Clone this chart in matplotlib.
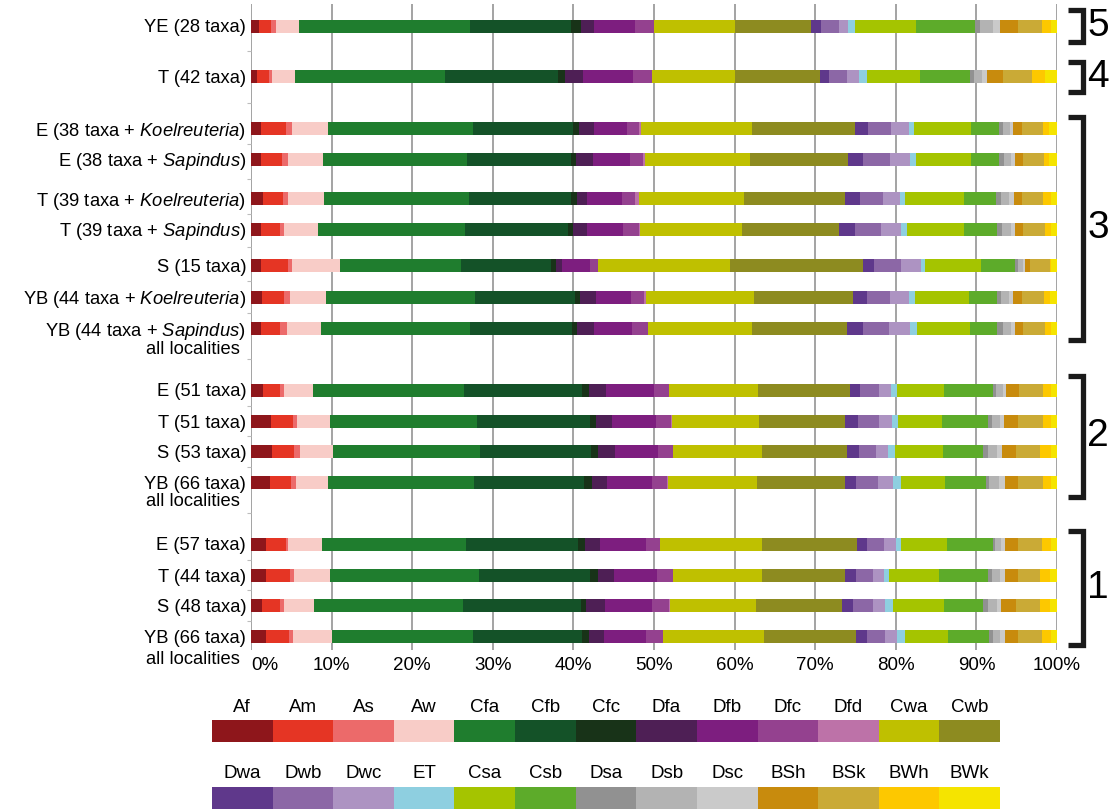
import numpy as np
import matplotlib
matplotlib.use("Agg")
import matplotlib.pyplot as plt
from matplotlib.transforms import blended_transform_factory

plt.rcParams['font.family'] = ['Liberation Sans', 'DejaVu Sans']
plt.rcParams['mathtext.fontset'] = 'custom'
plt.rcParams['mathtext.rm'] = 'Liberation Sans'
plt.rcParams['mathtext.it'] = 'Liberation Sans:italic'

# Koeppen-Geiger climate types and their colours
climate_types = ['Af', 'Am', 'As', 'Aw', 'Cfa', 'Cfb', 'Cfc', 'Dfa', 'Dfb', 'Dfc', 'Dfd',
                 'Cwa', 'Cwb', 'Dwa', 'Dwb', 'Dwc', 'ET', 'Csa', 'Csb', 'Dsa', 'Dsb',
                 'Dsc', 'BSh', 'BSk', 'BWh', 'BWk']
climate_colors = ['#8E161B', '#E53524', '#EC6A6A', '#F8CCC7', '#1F7D2E', '#145228',
                  '#183318', '#4E1F55', '#7D1E7F', '#94418F', '#BD72A8', '#BFC000',
                  '#8D8B20', '#5F388B', '#8C67A6', '#AD93C2', '#8ECFE0', '#A5C400',
                  '#5DAB2A', '#919191', '#B3B3B3', '#CACACA', '#C88B0D', '#CAAA36',
                  '#FDC800', '#F5E400']

row_labels = ['YE (28 taxa)', 'T (42 taxa)',
              r'E (38 taxa + $\it{Koelreuteria}$)', r'E (38 taxa + $\it{Sapindus}$)',
              r'T (39 taxa + $\it{Koelreuteria}$)', r'T (39 taxa + $\it{Sapindus}$)',
              'S (15 taxa)',
              r'YB (44 taxa + $\it{Koelreuteria}$)', r'YB (44 taxa + $\it{Sapindus}$)',
              'E (51 taxa)', 'T (51 taxa)', 'S (53 taxa)', 'YB (66 taxa)',
              'E (57 taxa)', 'T (44 taxa)', 'S (48 taxa)', 'YB (66 taxa)']

# share (%) of each climate type, in the order of climate_types
ye_28 = [1.0, 1.5, 0.6, 2.9, 21.2, 12.5, 1.2, 1.6, 5.2, 2.3, 0.0, 10.1, 9.4,
         1.2, 2.2, 1.2, 0.8, 7.6, 7.3, 0.6, 1.7, 0.8, 2.2, 3.0, 1.2, 0.7]
t_42 = [0.8, 1.45, 0.4, 2.75, 18.7, 14.05, 0.8, 2.3, 6.2, 2.3, 0.0, 10.3, 10.5,
        1.2, 2.2, 1.5, 1.0, 6.6, 6.2, 0.5, 1.0, 0.6, 1.9, 3.7, 1.6, 1.5]
e_38_koel = [1.3, 3.0, 0.8, 4.5, 17.9, 12.5, 0.7, 1.8, 4.2, 1.5, 0.2, 13.7, 12.8,
             1.6, 2.9, 2.2, 0.7, 7.0, 3.5, 0.5, 0.9, 0.4, 1.0, 2.7, 0.7, 1.0]
e_38_sap = [1.25, 2.65, 0.75, 4.3, 17.9, 12.9, 0.6, 2.1, 4.6, 1.6, 0.2, 13.1, 12.1,
            1.9, 3.3, 2.5, 0.7, 6.9, 3.5, 0.6, 0.8, 0.5, 1.0, 2.6, 0.7, 1.0]
t_39_koel = [1.45, 2.5, 0.7, 4.35, 18.1, 12.6, 0.7, 1.3, 4.3, 1.7, 0.4, 13.1, 12.5,
             1.8, 2.9, 2.1, 0.7, 7.2, 4.0, 0.7, 1.0, 0.6, 1.0, 2.6, 0.9, 0.8]
t_39_sap = [1.3, 2.3, 0.55, 4.2, 18.15, 12.8, 0.7, 1.7, 4.4, 2.0, 0.2, 12.6, 12.0,
            2.0, 3.3, 2.4, 0.8, 7.1, 4.0, 0.7, 1.1, 0.5, 1.0, 2.7, 0.7, 0.8]
s_15 = [1.25, 3.3, 0.5, 5.95, 15.1, 11.1, 0.6, 0.8, 3.5, 1.0, 0.0, 16.3, 16.55,
        1.35, 3.3, 2.5, 0.5, 7.0, 4.2, 0.3, 0.7, 0.2, 0.6, 2.5, 0.2, 0.7]
yb_44_koel = [1.4, 2.65, 0.85, 4.45, 18.45, 12.4, 0.6, 2.0, 4.3, 1.7, 0.25, 13.35, 12.3,
              1.7, 2.9, 2.3, 0.8, 6.7, 3.5, 0.5, 1.0, 0.5, 1.1, 2.7, 0.7, 0.9]
yb_44_sap = [1.25, 2.35, 0.9, 4.2, 18.5, 12.6, 0.7, 2.1, 4.7, 1.9, 0.1, 12.8, 11.8,
             2.0, 3.2, 2.6, 0.9, 6.6, 3.4, 0.7, 1.0, 0.5, 1.0, 2.7, 0.7, 0.8]
e_51 = [1.45, 2.2, 0.4, 3.7, 18.65, 14.7, 0.8, 2.1, 6.0, 1.8, 0.1, 11.0, 11.4,
        1.3, 2.3, 1.5, 0.7, 5.9, 6.1, 0.3, 0.9, 0.4, 1.6, 3.0, 1.0, 0.7]
t_51 = [2.5, 2.75, 0.4, 4.1, 18.35, 13.9, 0.8, 1.95, 5.5, 1.85, 0.1, 10.8, 10.7,
        1.6, 2.6, 1.6, 0.8, 5.4, 5.8, 0.4, 1.0, 0.5, 1.7, 3.2, 1.0, 0.7]
s_53 = [2.55, 2.75, 0.75, 4.15, 18.2, 13.8, 0.8, 2.1, 5.4, 1.8, 0.1, 11.0, 10.55,
        1.45, 2.2, 1.4, 0.9, 5.9, 5.0, 0.6, 1.1, 0.7, 1.7, 3.0, 1.3, 0.8]
yb_66_a = [2.35, 2.6, 0.6, 4.05, 18.1, 13.6, 1.0, 1.9, 5.5, 1.9, 0.1, 11.1, 10.9,
           1.4, 2.7, 1.9, 0.9, 5.5, 5.1, 0.4, 1.2, 0.7, 1.6, 3.2, 1.0, 0.7]
e_57 = [1.8, 2.55, 0.3, 4.1, 17.95, 13.9, 0.8, 1.9, 5.7, 1.8, 0.0, 12.6, 11.8,
        1.2, 2.1, 1.5, 0.7, 5.6, 5.7, 0.3, 0.8, 0.4, 1.7, 2.9, 1.2, 0.7]
t_44 = [1.9, 2.9, 0.5, 4.55, 18.45, 13.7, 1.0, 2.0, 5.35, 1.95, 0.1, 11.0, 10.3,
        1.4, 2.1, 1.3, 0.7, 6.2, 6.0, 0.5, 1.0, 0.7, 1.5, 2.8, 1.2, 0.9]
s_48 = [1.4, 2.25, 0.5, 3.65, 18.5, 14.7, 0.6, 2.3, 5.9, 2.1, 0.1, 10.6, 10.7,
        1.4, 2.5, 1.5, 1.0, 6.3, 4.8, 0.6, 1.2, 0.5, 1.8, 3.0, 1.2, 0.9]
yb_66_b = [1.9, 2.8, 0.45, 4.85, 17.6, 13.5, 0.8, 1.9, 5.25, 2.05, 0.0, 12.5, 11.4,
           1.4, 2.3, 1.4, 1.0, 5.4, 5.1, 0.4, 0.9, 0.6, 1.7, 2.9, 1.2, 0.7]

shares = np.array([ye_28, t_42, e_38_koel, e_38_sap, t_39_koel, t_39_sap, s_15,
                   yb_44_koel, yb_44_sap, e_51, t_51, s_53, yb_66_a,
                   e_57, t_44, s_48, yb_66_b])

group_numbers = ['5', '4', '3', '2', '1']

# ---- layout (vertical positions in pixel-like units, top = small) ----
W, H = 1115, 809
row_pos = [26, 76.5, 128.5, 159, 198.5, 229, 265.5, 297, 328.5,
           390, 421, 451.5, 482.5, 544, 575, 605.5, 636.5]
extra_label_pos = [349, 502, 660]
bracket_spans = [(10, 42), (62, 92), (117, 340), (376, 497), (531, 645)]
label_size = 13.2

fig = plt.figure(figsize=(W / 100, H / 100), dpi=100)
ax = fig.add_axes([251 / W, 1 - 650 / H, 806 / W, 646 / H])
ax.set_xlim(0, 100)
ax.set_ylim(650, 4)

left = np.zeros(len(row_pos))
for j, col in enumerate(climate_colors):
    ax.barh(row_pos, shares[:, j], left=left, height=13, color=col,
            edgecolor='none', zorder=3)
    left += shares[:, j]

ax.set_xticks(np.arange(0, 101, 10))
ax.set_xticklabels([f'{v}%' for v in range(0, 101, 10)], fontsize=13.5)
ax.get_xticklabels()[0].set_horizontalalignment('left')
ax.xaxis.grid(True, color='#9c9c9c', lw=1.3)
ax.set_axisbelow(True)
ax.tick_params(axis='x', length=0, pad=5)

ax.set_yticks(row_pos)
ax.set_yticklabels(row_labels, fontsize=label_size)
ax.tick_params(axis='y', length=0, pad=3.5)
mids = [(a + b) / 2 for a, b in zip(row_pos[:-1], row_pos[1:])]
ax.set_yticks(mids, minor=True)
ax.tick_params(axis='y', which='minor', length=3, width=0.8, color='#bdbdbd')

for s in ax.spines.values():
    s.set_visible(False)

trans = blended_transform_factory(ax.transAxes, ax.transData)
for y in extra_label_pos:
    ax.text(-0.0136, y, 'all localities', transform=trans, ha='right',
            va='center', fontsize=label_size, clip_on=False)

# group brackets on the right
x_arm = (1068 - 251) / 806
x_bar = (1083 - 251) / 806
x_num = (1098 - 251) / 806
for (y0, y1), num in zip(bracket_spans, group_numbers):
    ax.plot([x_arm, x_bar, x_bar, x_arm], [y0, y0, y1, y1], transform=trans,
            color='#1a1a1a', lw=3.8, solid_joinstyle='miter',
            solid_capstyle='butt', clip_on=False)
    ax.text(x_num, (y0 + y1) / 2, num, transform=trans, ha='center',
            va='center', fontsize=28, clip_on=False)

# colour key
lg = fig.add_axes([212 / W, 0, 788 / W, 119 / H])
lg.set_xlim(0, 13)
lg.set_ylim(809, 690)
lg.axis('off')
for r in range(2):
    names = climate_types[r * 13:(r + 1) * 13]
    cols = climate_colors[r * 13:(r + 1) * 13]
    top = 720 + r * 67
    lg.bar(np.arange(13) + 0.5, 22, bottom=top, width=1.0, color=cols,
           edgecolor='none')
    for k, n in enumerate(names):
        lg.text(k + 0.5, top - 13, n, ha='center', va='center', fontsize=13.5)

fig.savefig('out.png', dpi=100)
